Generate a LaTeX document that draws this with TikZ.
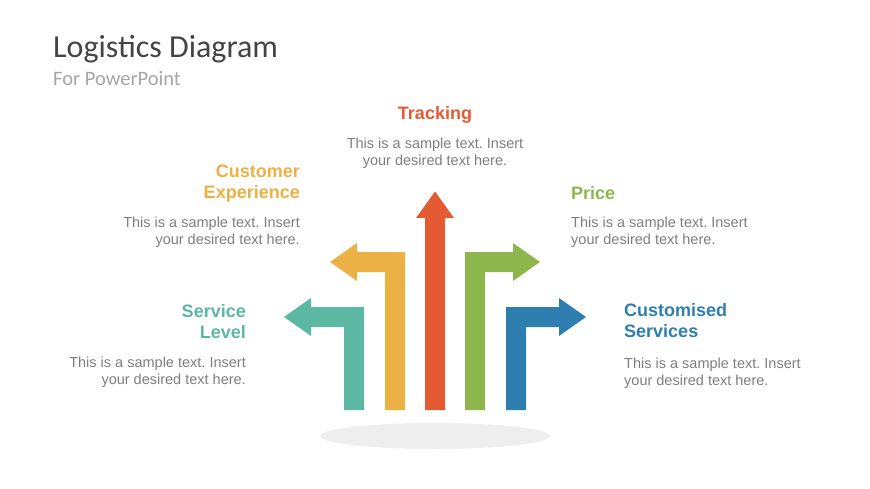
\documentclass[tikz,border=0pt]{standalone}
\usepackage{fontspec}
\setmainfont{Liberation Sans}
\newfontfamily\titlefont{Carlito}
\usetikzlibrary{positioning}
\frenchspacing
\definecolor{tealc}{HTML}{5CB8A3}
\definecolor{orangec}{HTML}{EBB145}
\definecolor{redc}{HTML}{E35A33}
\definecolor{greenc}{HTML}{8DB74C}
\definecolor{bluec}{HTML}{2E7FB0}
\definecolor{bodyc}{HTML}{7F7F7F}
\definecolor{titlec}{HTML}{444444}
\definecolor{subc}{HTML}{A6A6A6}
\definecolor{shadowc}{HTML}{EEEEEE}
\tikzset{
  head/.style={font=\fontsize{18}{21}\selectfont\bfseries, inner sep=0pt},
  body/.style={font=\fontsize{14.5}{17}\selectfont, text=bodyc, inner sep=0pt},
}

\begin{document}
\begin{tikzpicture}[x=1pt,y=-1pt]

        \fill[white] (0,0) rectangle (870,489);
        \useasboundingbox (0,0) rectangle (870,489);

        % title
        \node[anchor=base west, inner sep=0pt, text=titlec, font=\titlefont\fontsize{32}{36}\selectfont] (title) at (53,57.5) {Logistics Diagram};
        \node[anchor=base west, inner sep=0pt, text=subc, font=\titlefont\fontsize{20.5}{24}\selectfont] (subtitle) at (53,86) {For PowerPoint};

        % shadow
        \fill[shadowc] (435,436) ellipse [x radius=115pt, y radius=13pt];

        % arrows
        \fill[tealc] (344,410) -- (344,327) -- (311,327) -- (311,336) -- (284,317)
          -- (311,298) -- (311,307) -- (364,307) -- (364,410) -- cycle;
        \fill[orangec] (385,410) -- (385,272) -- (357,272) -- (357,281) -- (330,262)
          -- (357,243) -- (357,252) -- (405,252) -- (405,410) -- cycle;
        \fill[redc] (425,410) -- (425,218) -- (416,218) -- (435,191.5)
          -- (454,218) -- (445,218) -- (445,410) -- cycle;
        \fill[greenc] (485,410) -- (485,272) -- (513,272) -- (513,281) -- (540,262)
          -- (513,243) -- (513,252) -- (465,252) -- (465,410) -- cycle;
        \fill[bluec] (526,410) -- (526,327) -- (559,327) -- (559,336) -- (586,317)
          -- (559,298) -- (559,307) -- (506,307) -- (506,410) -- cycle;

        % labels
        \node[head, text=redc, anchor=north] (tr_head) at (435,106) {Tracking};
        \node[body, align=center, anchor=north] (tr_text) at (435,137.5)
          {This is a sample text. Insert\\your desired text here.};

        \node[head, text=orangec, align=right, anchor=north east] (ce_head) at (300,165) {Customer\\Experience};
        \node[body, align=right, anchor=north east] (ce_text) at (300,216.5)
          {This is a sample text. Insert\\your desired text here.};

        \node[head, text=greenc, anchor=north west] (pr_head) at (571,186) {Price};
        \node[body, align=left, anchor=north west] (pr_text) at (571,216.5)
          {This is a sample text. Insert\\your desired text here.};

        \node[head, text=tealc, align=right, anchor=north east] (sl_head) at (246,304) {Service\\Level};
        \node[body, align=right, anchor=north east] (sl_text) at (246,357)
          {This is a sample text. Insert\\your desired text here.};

        \node[head, text=bluec, align=left, anchor=north west] (cs_head) at (624,303.5) {Customised\\Services};
        \node[body, align=left, anchor=north west] (cs_text) at (624,357.5)
          {This is a sample text. Insert\\your desired text here.};

    \end{tikzpicture}
\end{document}
